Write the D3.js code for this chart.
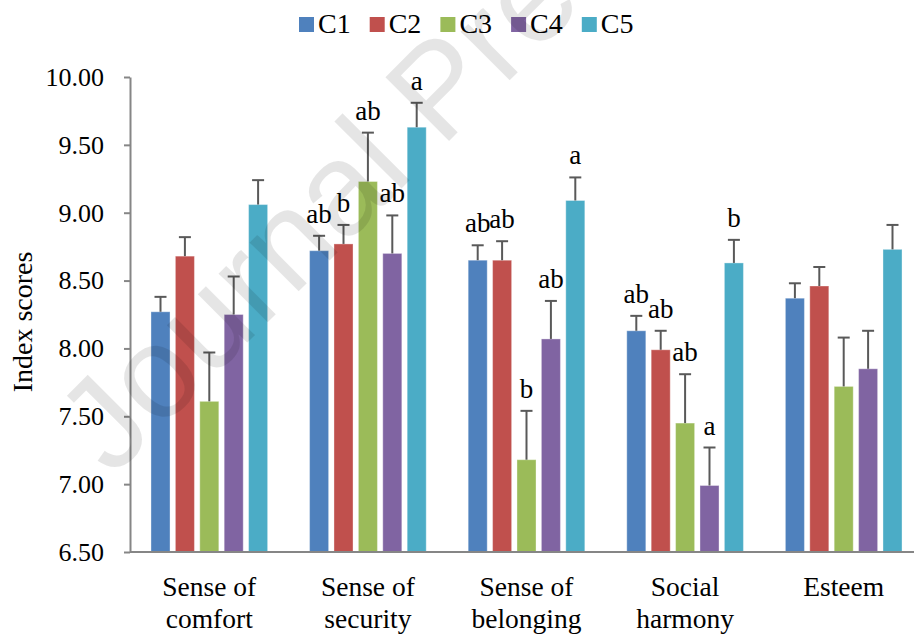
<!DOCTYPE html>
<html>
<head>
<meta charset="utf-8">
<script src="https://cdn.jsdelivr.net/npm/d3@7/dist/d3.min.js"></script>
<style>
  html, body { margin: 0; padding: 0; background: #fff; }
  svg { display: block; }
</style>
</head>
<body>
<svg id="chart" width="914" height="639"></svg>
<script>
const categories = [["Sense of", "comfort"], ["Sense of", "security"], ["Sense of", "belonging"], ["Social", "harmony"], ["Esteem"]];
const seriesNames = ["C1", "C2", "C3", "C4", "C5"];
const seriesColors = ["#4F81BD", "#C0504D", "#9BBB59", "#8064A2", "#4BACC6"];

// mean index scores per series, one value per category
const c1Values = [8.27, 8.72, 8.65, 8.13, 8.37];
const c2Values = [8.68, 8.77, 8.65, 7.99, 8.46];
const c3Values = [7.61, 9.23, 7.18, 7.45, 7.72];
const c4Values = [8.25, 8.70, 8.07, 6.99, 7.85];
const c5Values = [9.06, 9.63, 9.09, 8.63, 8.73];

// error bar heights (upper only)
const c1Errors = [0.11, 0.11, 0.11, 0.11, 0.11];
const c2Errors = [0.14, 0.14, 0.14, 0.14, 0.14];
const c3Errors = [0.36, 0.36, 0.36, 0.36, 0.36];
const c4Errors = [0.28, 0.28, 0.28, 0.28, 0.28];
const c5Errors = [0.18, 0.18, 0.17, 0.17, 0.18];

// significance letters ("" = none)
const c1Letters = ["", "ab", "ab", "ab", ""];
const c2Letters = ["", "b", "ab", "ab", ""];
const c3Letters = ["", "ab", "b", "ab", ""];
const c4Letters = ["", "ab", "ab", "a", ""];
const c5Letters = ["", "a", "a", "b", ""];

const yTicks = [6.5, 7.0, 7.5, 8.0, 8.5, 9.0, 9.5, 10.0];

const allValues = [c1Values, c2Values, c3Values, c4Values, c5Values];
const allErrors = [c1Errors, c2Errors, c3Errors, c4Errors, c5Errors];
const allLetters = [c1Letters, c2Letters, c3Letters, c4Letters, c5Letters];

const SERIF = "'Liberation Serif', 'Times New Roman', Times, serif";

const svg = d3.select("#chart");
const plot = { left: 130, right: 923, top: 77, bottom: 552 };

const catKeys = categories.map((c) => c.join(" "));
const x0 = d3.scaleBand().domain(catKeys).range([plot.left, plot.right]);
const groupW = 122;
const x1 = d3.scaleBand().domain(seriesNames).range([0, groupW]).paddingInner(0.22).paddingOuter(0.11);
const y = d3.scaleLinear().domain([6.5, 10]).range([plot.bottom, plot.top]);

const rows = [];
catKeys.forEach((cat, ci) => {
  seriesNames.forEach((s, si) => {
    rows.push({
      cat, series: s, color: seriesColors[si],
      value: allValues[si][ci], err: allErrors[si][ci], letter: allLetters[si][ci],
    });
  });
});
const barX = (d) => x0(d.cat) + x0.bandwidth() / 2 - groupW / 2 + x1(d.series);

// bars
svg.append("g")
  .selectAll("rect")
  .data(rows)
  .enter()
  .append("rect")
  .attr("x", barX)
  .attr("y", (d) => y(d.value))
  .attr("width", x1.bandwidth())
  .attr("height", (d) => y(6.5) - y(d.value))
  .attr("fill", (d) => d.color)
  .attr("stroke", "#ffffff")
  .attr("stroke-opacity", 0.35)
  .attr("stroke-width", 1);

// error bars
const eb = svg.append("g").attr("stroke", "#595959").attr("stroke-width", 2);
const capW = 12;
rows.forEach((d) => {
  const cx = barX(d) + x1.bandwidth() / 2;
  eb.append("line")
    .attr("x1", cx).attr("x2", cx)
    .attr("y1", y(d.value)).attr("y2", y(d.value + d.err));
  eb.append("line")
    .attr("x1", cx - capW / 2).attr("x2", cx + capW / 2)
    .attr("y1", y(d.value + d.err)).attr("y2", y(d.value + d.err));
});

// significance letters
svg.append("g")
  .selectAll("text")
  .data(rows.filter((d) => d.letter))
  .enter()
  .append("text")
  .attr("x", (d) => barX(d) + x1.bandwidth() / 2)
  .attr("y", (d) => y(d.value + d.err) - 13)
  .attr("text-anchor", "middle")
  .attr("font-family", SERIF)
  .attr("font-size", 27)
  .text((d) => d.letter);

// y axis
const yAxis = svg.append("g")
  .attr("transform", `translate(${plot.left},0)`)
  .call(d3.axisLeft(y).tickValues(yTicks).tickFormat(d3.format(".2f")).tickSize(6).tickSizeOuter(0).tickPadding(20));
yAxis.attr("font-family", SERIF).attr("font-size", 26);
yAxis.select(".domain").attr("stroke", "#868686").attr("stroke-width", 2);
yAxis.selectAll(".tick line").attr("stroke", "#868686").attr("stroke-width", 2);
yAxis.selectAll(".tick text").attr("fill", "#000");

// x axis line
svg.append("line")
  .attr("x1", plot.left).attr("x2", plot.right)
  .attr("y1", y(6.5)).attr("y2", y(6.5))
  .attr("stroke", "#868686").attr("stroke-width", 2);

// category labels
const catLabels = svg.append("g")
  .attr("font-family", SERIF)
  .attr("font-size", 27.5)
  .selectAll("text")
  .data(categories)
  .enter()
  .append("text")
  .attr("x", (d) => x0(d.join(" ")) + x0.bandwidth() / 2)
  .attr("y", 596)
  .attr("text-anchor", "middle");
catLabels.selectAll("tspan")
  .data((d) => d)
  .enter()
  .append("tspan")
  .attr("x", function () { return d3.select(this.parentNode).attr("x"); })
  .attr("dy", (d, i) => (i === 0 ? 0 : 32))
  .text((d) => d);

// y axis title
svg.append("text")
  .attr("transform", "translate(32,322) rotate(-90)")
  .attr("text-anchor", "middle")
  .attr("font-family", SERIF)
  .attr("font-size", 28)
  .text("Index scores");

// legend
const legend = svg.append("g").attr("font-family", SERIF).attr("font-size", 28);
seriesNames.forEach((s, i) => {
  const lx = 299 + i * 70.7;
  legend.append("rect")
    .attr("x", lx).attr("y", 17).attr("width", 15).attr("height", 15)
    .attr("fill", seriesColors[i]);
  legend.append("text")
    .attr("x", lx + 19).attr("y", 33)
    .text(s);
});

// watermark
svg.append("text")
  .attr("transform", "translate(112,478) rotate(-45)")
  .attr("font-family", "'Liberation Sans', Arial, sans-serif")
  .attr("font-size", 131)
  .attr("fill", "#000")
  .attr("fill-opacity", 0.1)
  .text("Journal Pre");
</script>
</body>
</html>
